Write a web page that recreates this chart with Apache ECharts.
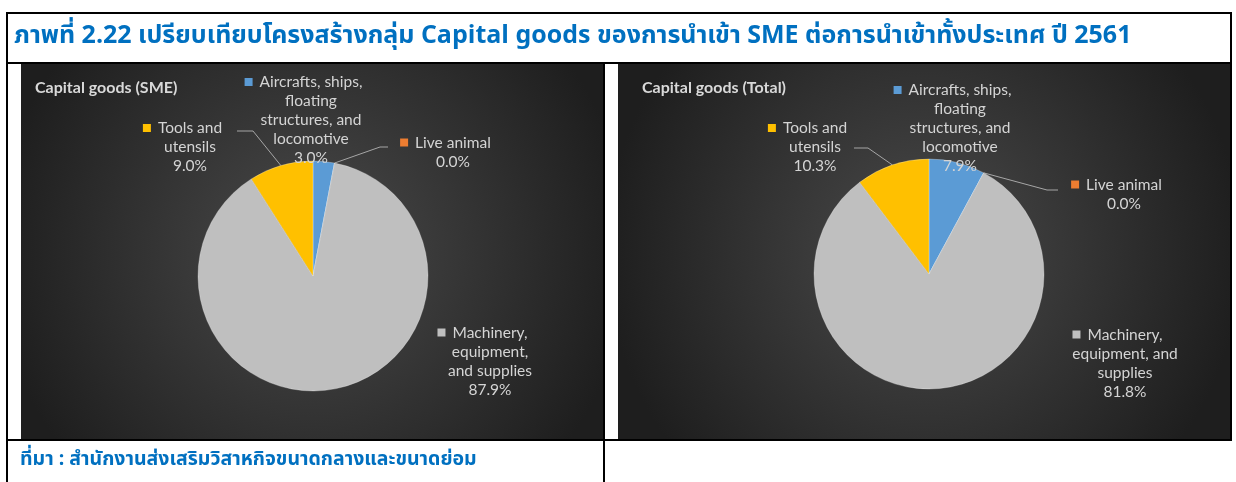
<!DOCTYPE html>
<html><head><meta charset="utf-8">
<script src="https://cdn.jsdelivr.net/npm/echarts@6/dist/echarts.min.js"></script>
<style>html,body{margin:0;padding:0;background:#fff}#c{width:1236px;height:482px}</style>
</head><body><div id="c"></div>
<script>
const headingText = 'ภาพที่ 2.22 เปรียบเทียบโครงสร้างกลุ่ม Capital goods ของการนำเข้า SME ต่อการนำเข้าทั้งประเทศ ปี 2561';
const sourceText = 'ที่มา : สำนักงานส่งเสริมวิสาหกิจขนาดกลางและขนาดย่อม';
const chartTitles = ['Capital goods (SME)', 'Capital goods (Total)'];
const categories = ['Aircrafts, ships, floating structures, and locomotive', 'Live animal', 'Machinery, equipment, and supplies', 'Tools and utensils'];
const smeShare = [3.0, 0.0, 87.9, 9.0];
const totalShare = [7.9, 0.0, 81.8, 10.3];
const smeLabelLines = [['Aircrafts, ships,', 'floating', 'structures, and', 'locomotive'], ['Live animal'], ['Machinery,', 'equipment,', 'and supplies'], ['Tools and', 'utensils']];
const totalLabelLines = [['Aircrafts, ships,', 'floating', 'structures, and', 'locomotive'], ['Live animal'], ['Machinery,', 'equipment, and', 'supplies'], ['Tools and', 'utensils']];
const sliceColors = ['#5B9BD5', '#ED7D31', '#BFBFBF', '#FFC000'];

const labelFont = "Lato, 'Open Sans', sans-serif";
const thaiFont = "Tahoma, 'Noto Sans Thai', 'Leelawadee UI', 'Noto Sans', sans-serif";

function makeFormatter(lines) {
  return function (p) {
    const ls = lines[p.dataIndex];
    const out = ['{sq' + p.dataIndex + '|}{g|}{t|' + ls[0] + '}{sp|}'];
    for (let i = 1; i < ls.length; i++) out.push('{t|' + ls[i] + '}');
    out.push('{t|' + p.value.toFixed(1) + '%}');
    return out.join('\n');
  };
}
const rich = { g: { width: 7, height: 8, align: 'center' }, sp: { width: 15, height: 8, align: 'center' },
  t: { fontFamily: labelFont, fontSize: 15.5, lineHeight: 19, color: '#D4D4D4', align: 'center' } };
sliceColors.forEach((c, i) => { rich['sq' + i] = { width: 8, height: 8, backgroundColor: c, align: 'center' }; });

// label placements (block centre) and leader-line bends per chart
const smeLabelPos = [[311, 120], [453, 152], [490, 361], [190, 147]];
const totalLabelPos = [[960, 128], [1124, 194], [1125, 363], [815, 147]];
const smeBends = { 1: [[380, 147], [388, 147]], 3: [[253, 131], [237, 131]] };
const totalBends = { 1: [[1047, 190], [1058, 190]], 3: [[868, 148], [854, 148]] };

function makeData(values) {
  return categories.map((n, i) => ({ name: n, value: values[i], itemStyle: { color: sliceColors[i] },
    labelLine: { show: i === 1 || i === 3 } }));
}
function makeLayout(pos, bends) {
  return function (p) {
    const r = { x: pos[p.dataIndex][0], y: pos[p.dataIndex][1], align: 'center', verticalAlign: 'middle' };
    if (bends[p.dataIndex] && p.labelLinePoints) {
      r.labelLinePoints = [p.labelLinePoints[0], bends[p.dataIndex][0], bends[p.dataIndex][1]];
    }
    return r;
  };
}
function pieSeries(values, lines, center, pos, bends) {
  return {
    type: 'pie', radius: 115, center: center, startAngle: 90, clockwise: true,
    silent: true, avoidLabelOverlap: false, animation: false,
    data: makeData(values),
    itemStyle: { borderColor: 'rgba(255,255,255,0.35)', borderWidth: 0.8 },
    label: { show: true, position: 'outside', formatter: makeFormatter(lines), rich: rich, align: 'center',
      fontFamily: labelFont, fontSize: 15.5, lineHeight: 19, color: '#D4D4D4' },
    labelLine: { show: true, length: 20, length2: 10, lineStyle: { color: '#A6A6A6', width: 1 } },
    labelLayout: makeLayout(pos, bends)
  };
}

function bgRect(x, y, w, h) {
  return { type: 'rect', silent: true, z: -10, shape: { x: x, y: y, width: w, height: h },
    style: { fill: { type: 'radial', x: 0.5, y: 0.5, r: 0.85,
      colorStops: [{ offset: 0, color: '#4A4A4A' }, { offset: 1, color: '#1E1E1E' }] } } };
}
function line(x, y, w, h) {
  return { type: 'rect', silent: true, z: 5, shape: { x: x, y: y, width: w, height: h }, style: { fill: '#000' } };
}

const chart = echarts.init(document.getElementById('c'), null, { renderer: 'canvas' });
chart.setOption({
  backgroundColor: '#FFFFFF',
  animation: false,
  title: [
    { text: headingText, left: 14, top: 23, padding: 0,
      textStyle: { fontFamily: thaiFont, fontSize: 25, fontWeight: 'bold', color: '#0070C0', lineHeight: 30 } },
    { text: chartTitles[0], left: 35, top: 79, padding: 0,
      textStyle: { fontFamily: labelFont, fontSize: 16, fontWeight: 'bold', color: '#D9D9D9', lineHeight: 17 } },
    { text: chartTitles[1], left: 642, top: 79, padding: 0,
      textStyle: { fontFamily: labelFont, fontSize: 16, fontWeight: 'bold', color: '#D9D9D9', lineHeight: 17 } },
    { text: sourceText, left: 20, top: 449, padding: 0,
      textStyle: { fontFamily: thaiFont, fontSize: 19.5, fontWeight: 'bold', color: '#0070C0', lineHeight: 24 } }
  ],
  graphic: [
    bgRect(21, 64, 583, 375),
    bgRect(618, 64, 612, 375),
    line(6, 12, 1226, 2),
    line(6, 62, 1226, 2),
    line(6, 439, 1226, 2),
    line(6, 12, 2, 470),
    line(1230, 12, 2, 429),
    line(603, 62, 2, 420)
  ],
  series: [
    pieSeries(smeShare, smeLabelLines, [313, 276], smeLabelPos, smeBends),
    pieSeries(totalShare, totalLabelLines, [929, 274], totalLabelPos, totalBends)
  ]
});
</script></body></html>
